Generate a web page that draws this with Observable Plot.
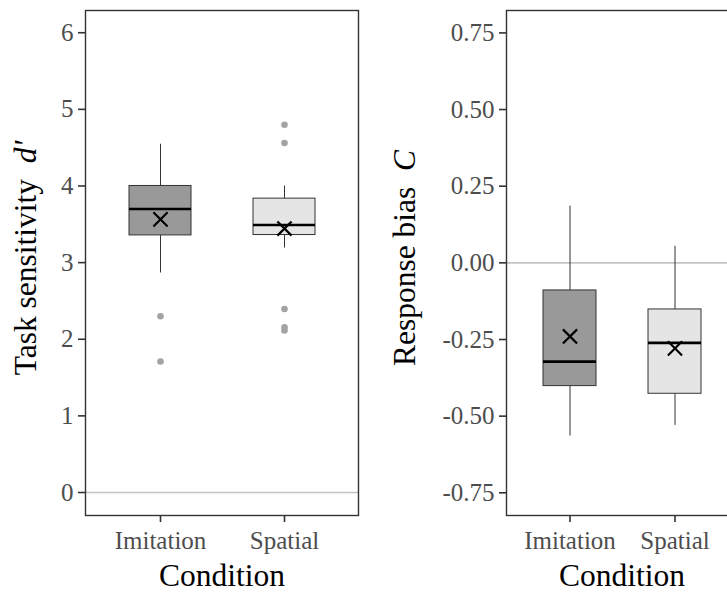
<!DOCTYPE html>
<html>
<head>
<meta charset="utf-8">
<script src="https://cdn.jsdelivr.net/npm/d3@7"></script>
<script src="https://cdn.jsdelivr.net/npm/@observablehq/plot@0.6"></script>
<style>
  html, body { margin: 0; padding: 0; background: white; }
  #wrap { position: relative; width: 727px; height: 593px; overflow: hidden; background: white; }
  #wrap > svg { position: absolute; top: 0; }
</style>
</head>
<body>
<div id="wrap"></div>
<script>
// ---- data ----
const conditions = ["Imitation", "Spatial"];
const fills = ["#999999", "#e5e5e5"];

// Task sensitivity d'
const dLow = [2.865, 3.19];
const dQ1 = [3.355, 3.36];
const dMedian = [3.70, 3.49];
const dQ3 = [4.00, 3.835];
const dHigh = [4.545, 4.00];
const dMean = [3.565, 3.445];
const dOutCond = ["Imitation", "Imitation", "Spatial", "Spatial", "Spatial", "Spatial", "Spatial"];
const dOutVal = [2.30, 1.71, 4.80, 4.56, 2.395, 2.155, 2.115];
const dTicks = [0, 1, 2, 3, 4, 5, 6];

// Response bias C
const cLow = [-0.565, -0.530];
const cQ1 = [-0.402, -0.427];
const cMedian = [-0.322, -0.261];
const cQ3 = [-0.090, -0.152];
const cHigh = [0.185, 0.054];
const cMean = [-0.240, -0.279];
const cTicks = [-0.75, -0.5, -0.25, 0, 0.25, 0.5, 0.75];

const FONT = "'Liberation Serif', 'Times New Roman', serif";

function boxTable(low, q1, med, q3, high, mean) {
  return conditions.map((c, i) => ({cond: c, fill: fills[i], low: low[i], q1: q1[i], med: med[i], q3: q3[i], high: high[i], mean: mean[i]}));
}

function panel({rows, outliers, domain, ticks, fmt, width, marginLeft, marginRight}) {
  return Plot.plot({
    width, height: 593,
    marginLeft, marginRight, marginTop: 10, marginBottom: 78,
    style: {fontFamily: FONT, fontSize: "25px", background: "white", overflow: "visible"},
    x: {type: "band", domain: conditions, paddingInner: 0.5, paddingOuter: 0.35, align: 0.5},
    y: {domain},
    marks: [
      Plot.ruleY([0], {stroke: "#c4c4c4", strokeWidth: 1.6}),
      Plot.ruleX(rows, {x: "cond", y1: "low", y2: "q1", stroke: "#333", strokeWidth: 1}),
      Plot.ruleX(rows, {x: "cond", y1: "q3", y2: "high", stroke: "#333", strokeWidth: 1}),
      Plot.barY(rows, {x: "cond", y1: "q1", y2: "q3", fill: "fill", stroke: "#333", strokeWidth: 1}),
      Plot.tickY(rows, {x: "cond", y: "med", stroke: "#000", strokeWidth: 2.6}),
      Plot.dot(outliers, {x: "cond", y: "v", r: 3.3, fill: "#a3a3a3", stroke: null}),
      Plot.dot(rows, {x: "cond", y: "mean", symbol: "times", r: 6.5, stroke: "#000", strokeWidth: 2.2}),
      Plot.axisY({ticks, tickFormat: fmt, tickSize: 7, tickPadding: 5, fontSize: 25, stroke: "#333", strokeWidth: 1.6, fill: "#4d4d4d", label: null}),
      Plot.axisX({tickSize: 7, tickPadding: 9, fontSize: 25, stroke: "#333", strokeWidth: 1.6, fill: "#4d4d4d", label: null}),
      Plot.frame({stroke: "#333", strokeWidth: 1.4})
    ]
  });
}

const left = panel({
  rows: boxTable(dLow, dQ1, dMedian, dQ3, dHigh, dMean),
  outliers: dOutCond.map((c, i) => ({cond: c, v: dOutVal[i]})),
  domain: [-0.30, 6.29], ticks: dTicks, fmt: d => String(d),
  width: 370, marginLeft: 85, marginRight: 12
});
const right = panel({
  rows: boxTable(cLow, cQ1, cMedian, cQ3, cHigh, cMean),
  outliers: [],
  domain: [-0.824, 0.823], ticks: cTicks, fmt: d => d.toFixed(2),
  width: 370, marginLeft: 136, marginRight: 2
});

const wrap = document.getElementById("wrap");
left.style.left = "0px";
right.style.left = "370px";
wrap.appendChild(left);
wrap.appendChild(right);

function addTitles(svg, yx, yParts, cx) {
  const s = d3.select(svg);
  const t = s.append("text")
    .attr("transform", `translate(${yx},258) rotate(-90)`)
    .attr("text-anchor", "middle")
    .attr("font-family", FONT).attr("font-size", 31.5).attr("fill", "#000");
  yParts.forEach(p => t.append("tspan").attr("font-style", p.italic ? "italic" : null).text(p.text));
  s.append("text")
    .attr("x", cx).attr("y", 586)
    .attr("text-anchor", "middle")
    .attr("font-family", FONT).attr("font-size", 31.5).attr("fill", "#000")
    .text("Condition");
}
addTitles(left, 36, [{text: "Task sensitivity\u00a0\u00a0"}, {text: "d'", italic: true}], 222);
addTitles(right, 45, [{text: "Response bias\u00a0\u00a0"}, {text: "C", italic: true}], 252);
</script>
</body>
</html>
